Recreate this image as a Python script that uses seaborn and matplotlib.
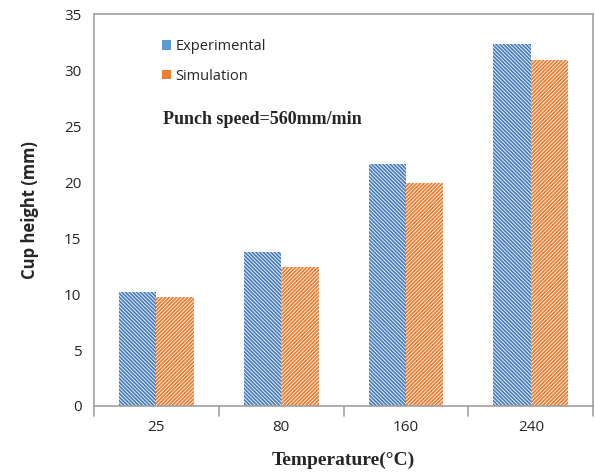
import pandas as pd
import matplotlib
matplotlib.use("Agg")
import matplotlib.pyplot as plt
import seaborn as sns
from matplotlib.patches import Patch

temperatures = ["25", "80", "160", "240"]
experimental = [10.2, 13.8, 21.6, 32.3]
simulation = [9.7, 12.4, 19.9, 30.9]
series_names = ["Experimental", "Simulation"]
colors = ["#4a7ebb", "#ed7d31"]
legend_colors = ["#5b9bd5", "#ed7d31"]

df = pd.DataFrame({
    "temperature": temperatures * 2,
    "height": experimental + simulation,
    "series": [series_names[0]] * 4 + [series_names[1]] * 4,
})

sns.set_style("white")
plt.rcParams["hatch.linewidth"] = 1.3

fig = plt.figure(figsize=(5.95, 4.74), dpi=100)
ax = fig.add_axes([0.158, 0.1435, 0.839, 0.8265])

sns.barplot(data=df, x="temperature", y="height", hue="series",
            order=temperatures, hue_order=series_names,
            width=0.6, gap=0, palette=["white", "white"],
            legend=False, ax=ax)

# dense diagonal stripes, about one every 4 px
hatches = ["\\" * 9, "/" * 9]
for cont, col, h in zip(ax.containers, colors, hatches):
    for bar in cont:
        bar.set_facecolor("white")
        bar.set_edgecolor(col)
        bar.set_hatch(h)
        bar.set_linewidth(0)

ax.set_ylim(0, 35)
ax.set_yticks(range(0, 36, 5))
ax.set_xlim(-0.5, 3.5)

for s in ax.spines.values():
    s.set_visible(True)
    s.set_color("#a0a0a0")
    s.set_linewidth(1.2)

ax.tick_params(axis="y", direction="out", length=5, width=1.2, color="#a0a0a0",
               labelsize=11, labelcolor="#262626", pad=4)
ax.tick_params(axis="x", length=0, labelsize=11, labelcolor="#262626", pad=10)
for lab in ax.get_xticklabels() + ax.get_yticklabels():
    lab.set_family("Open Sans")

# category separator ticks on the x axis
for xb in [-0.5, 0.5, 1.5, 2.5, 3.5]:
    ax.plot([xb, xb], [0, -0.026], transform=ax.get_xaxis_transform(),
            color="#a0a0a0", lw=1.2, clip_on=False)

ax.set_xlabel("Temperature(\u00b0C)", fontsize=14, fontweight="bold",
              family="Liberation Serif", labelpad=12)
ax.set_ylabel("Cup height (mm)", fontsize=12, fontweight="bold",
              family="Open Sans", labelpad=18)

handles = [Patch(facecolor=c, edgecolor="none") for c in legend_colors]
ax.legend(handles, series_names, loc="upper left", bbox_to_anchor=(0.11, 0.97),
          frameon=False, handlelength=0.6, handleheight=0.6, handletextpad=0.3,
          labelspacing=1.0, prop={"family": "Open Sans", "size": 10.5})

ax.text(0.138, 0.72, "Punch speed=560mm/min", transform=ax.transAxes,
        fontsize=13, fontweight="bold", family="Liberation Serif")

fig.savefig("out.png", dpi=100)
